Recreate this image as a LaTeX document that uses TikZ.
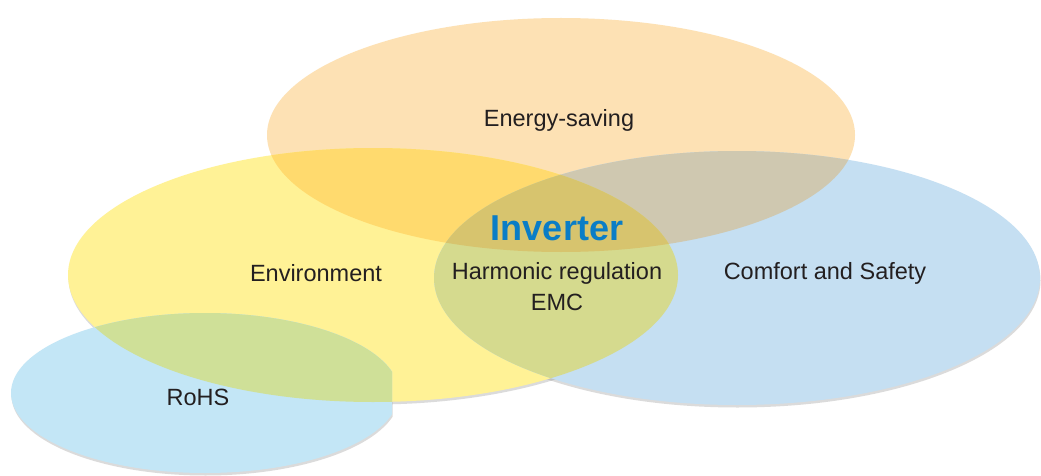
\documentclass[tikz,border=0pt]{standalone}
\usepackage{fontspec}
\setmainfont{Liberation Sans}
% fills of the single sets
\definecolor{cOrange}{HTML}{FDE1B4}
\definecolor{cYellow}{HTML}{FFF296}
\definecolor{cBlue}{HTML}{C5DFF2}
\definecolor{cSky}{HTML}{C3E6F6}
% fills of the overlaps
\definecolor{cOY}{HTML}{FFDA6E}
\definecolor{cOB}{HTML}{CFC8B0}
\definecolor{cYB}{HTML}{D5DA8E}
\definecolor{cOYB}{HTML}{D7C46E}
\definecolor{cYS}{HTML}{CFE098}
\definecolor{labelink}{HTML}{231F20}
\definecolor{inverterblue}{HTML}{0A7DC6}
\begin{document}
\begin{tikzpicture}[x=1pt,y=-1pt,
  ellEnergy/.style={insert path={(561,135) ellipse [x radius=294pt, y radius=117pt]}},
  ellEnv/.style={insert path={(373,275) ellipse [x radius=305pt, y radius=127pt]}},
  ellComfort/.style={insert path={(737,278) ellipse [x radius=303pt, y radius=127pt]}},
  ellRohs/.style={insert path={(205,393) ellipse [x radius=194pt, y radius=80pt]}},
  rohsCut/.style={insert path={(0,0) rectangle (392,476)}},
  dropshadow/.style={fill=gray, opacity=.28},
  setlabel/.style={text=labelink, font=\fontsize{23.5}{28}\selectfont, align=center, inner sep=0pt},
  titlelabel/.style={text=inverterblue, font=\fontsize{36}{40}\selectfont\bfseries, inner sep=0pt}]
\useasboundingbox (0,0) rectangle (1041,476);
\fill[white] (0,0) rectangle (1041,476);

% soft drop shadows under the lower sets
\begin{scope}[shift={(0.5,2.5)}]
  \path[dropshadow, ellEnv];
  \path[dropshadow, ellComfort];
  \begin{scope}
    \clip[rohsCut];
    \path[dropshadow, ellRohs];
  \end{scope}
\end{scope}

% the four sets
\fill[cOrange, ellEnergy];
\fill[cYellow, ellEnv];
\fill[cBlue, ellComfort];
\begin{scope}
  \clip[rohsCut];
  \fill[cSky, ellRohs];
\end{scope}

% overlaps
\begin{scope}
  \clip[ellEnergy];
  \fill[cOY, ellEnv];
  \fill[cOB, ellComfort];
\end{scope}
\begin{scope}
  \clip[ellEnv];
  \fill[cYB, ellComfort];
\end{scope}
\begin{scope}
  \clip[ellEnergy];
  \clip[ellEnv];
  \fill[cOYB, ellComfort];
\end{scope}
\begin{scope}
  \clip[ellEnv];
  \clip[rohsCut];
  \fill[cYS, ellRohs];
\end{scope}

% labels
\node[setlabel] (energy) at (559,120) {Energy-saving};
\node[titlelabel] (inverter) at (557,228) {Inverter};
\node[setlabel] (harmonic) at (557,273) {Harmonic regulation};
\node[setlabel] (emc) at (557,302) {EMC};
\node[setlabel] (environment) at (316,273) {Environment};
\node[setlabel] (comfort) at (825,273) {Comfort and Safety};
\node[setlabel] (rohs) at (198,397) {RoHS};
\end{tikzpicture}
\end{document}
